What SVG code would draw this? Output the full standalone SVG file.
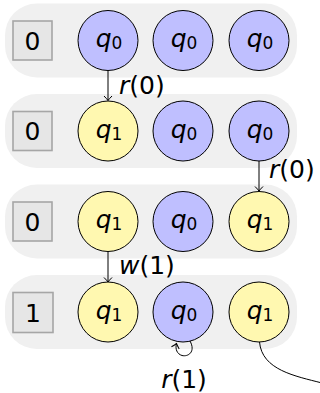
<svg xmlns="http://www.w3.org/2000/svg" width="320" height="393" viewBox="0 0 320 393">
<style>
.row{fill:#f0f0f0;stroke:none}
.box{fill:#e6e6e6;stroke:#a6a6a6;stroke-width:1.6}
.s0{fill:#bfbfff;stroke:#000;stroke-width:1}
.s1{fill:#fff8b0;stroke:#000;stroke-width:1}
text{font-family:"DejaVu Sans",sans-serif;font-size:25px;fill:#000}
.it{font-style:italic}
.sub{font-size:17px}
.edge{fill:none;stroke:#000;stroke-width:1}
</style>
<defs>
<marker id="arr" viewBox="-6 -5 8 10" markerWidth="8" markerHeight="10" refX="0" refY="0" orient="auto" markerUnits="userSpaceOnUse">
<path d="M -4.5 -4 Q -1.5 -1 0 0 Q -1.5 1 -4.5 4" fill="none" stroke="#000" stroke-width="1"/>
</marker>
</defs>
<g id="rows">
<rect class="row" x="5" y="3.5" width="292" height="74" rx="32"/>
<rect class="row" x="5" y="94" width="292" height="74" rx="32"/>
<rect class="row" x="5" y="184.5" width="292" height="74" rx="32"/>
<rect class="row" x="5" y="275" width="292" height="74" rx="32"/>
</g>
<g id="row1">
<g id="b1"><rect class="box" x="13" y="21" width="39" height="39"/><text x="32.5" y="49.5" text-anchor="middle">0</text></g>
<g id="n11"><circle class="s0" cx="108" cy="40.5" r="30"/><text x="109" y="47" text-anchor="middle"><tspan class="it">q</tspan><tspan class="sub" dy="2">0</tspan></text></g>
<g id="n12"><circle class="s0" cx="183" cy="40.5" r="30"/><text x="184" y="47" text-anchor="middle"><tspan class="it">q</tspan><tspan class="sub" dy="2">0</tspan></text></g>
<g id="n13"><circle class="s0" cx="259" cy="40.5" r="30"/><text x="260" y="47" text-anchor="middle"><tspan class="it">q</tspan><tspan class="sub" dy="2">0</tspan></text></g>
</g>
<g id="row2">
<g id="b2"><rect class="box" x="13" y="111.5" width="39" height="39"/><text x="32.5" y="140" text-anchor="middle">0</text></g>
<g id="n21"><circle class="s1" cx="108" cy="131" r="30"/><text x="109" y="137.5" text-anchor="middle"><tspan class="it">q</tspan><tspan class="sub" dy="2">1</tspan></text></g>
<g id="n22"><circle class="s0" cx="183" cy="131" r="30"/><text x="184" y="137.5" text-anchor="middle"><tspan class="it">q</tspan><tspan class="sub" dy="2">0</tspan></text></g>
<g id="n23"><circle class="s0" cx="259" cy="131" r="30"/><text x="260" y="137.5" text-anchor="middle"><tspan class="it">q</tspan><tspan class="sub" dy="2">0</tspan></text></g>
</g>
<g id="row3">
<g id="b3"><rect class="box" x="13" y="202" width="39" height="39"/><text x="32.5" y="230.5" text-anchor="middle">0</text></g>
<g id="n31"><circle class="s1" cx="108" cy="221.5" r="30"/><text x="109" y="228" text-anchor="middle"><tspan class="it">q</tspan><tspan class="sub" dy="2">1</tspan></text></g>
<g id="n32"><circle class="s0" cx="183" cy="221.5" r="30"/><text x="184" y="228" text-anchor="middle"><tspan class="it">q</tspan><tspan class="sub" dy="2">0</tspan></text></g>
<g id="n33"><circle class="s1" cx="259" cy="221.5" r="30"/><text x="260" y="228" text-anchor="middle"><tspan class="it">q</tspan><tspan class="sub" dy="2">1</tspan></text></g>
</g>
<g id="row4">
<g id="b4"><rect class="box" x="13" y="292.5" width="40" height="40"/><text x="33" y="321.5" text-anchor="middle">1</text></g>
<g id="n41"><circle class="s1" cx="108" cy="312" r="30"/><text x="109" y="318.5" text-anchor="middle"><tspan class="it">q</tspan><tspan class="sub" dy="2">1</tspan></text></g>
<g id="n42"><circle class="s0" cx="183" cy="312" r="30"/><text x="184" y="318.5" text-anchor="middle"><tspan class="it">q</tspan><tspan class="sub" dy="2">0</tspan></text></g>
<g id="n43"><circle class="s1" cx="259" cy="312" r="30"/><text x="260" y="318.5" text-anchor="middle"><tspan class="it">q</tspan><tspan class="sub" dy="2">1</tspan></text></g>
</g>
<g id="edges">
<path class="edge" d="M 108 70.5 L 108 100.5" marker-end="url(#arr)"/>
<text x="119" y="93.5"><tspan class="it">r</tspan>(0)</text>
<path class="edge" d="M 259 161 L 259 191" marker-end="url(#arr)"/>
<text x="269" y="177.5"><tspan class="it">r</tspan>(0)</text>
<path class="edge" d="M 108 251.5 L 108 282" marker-end="url(#arr)"/>
<text x="119" y="273.5"><tspan class="it">w</tspan>(1)</text>
<path class="edge" d="M 190 341 C 196 352, 188 357, 182 355.5 C 177 354, 175 349, 176.5 343.5" marker-end="url(#arr)"/>
<text x="184" y="388" text-anchor="middle"><tspan class="it">r</tspan>(1)</text>
<path class="edge" d="M 259.5 342 C 262 370, 295 376, 322 383"/>
</g>
</svg>
